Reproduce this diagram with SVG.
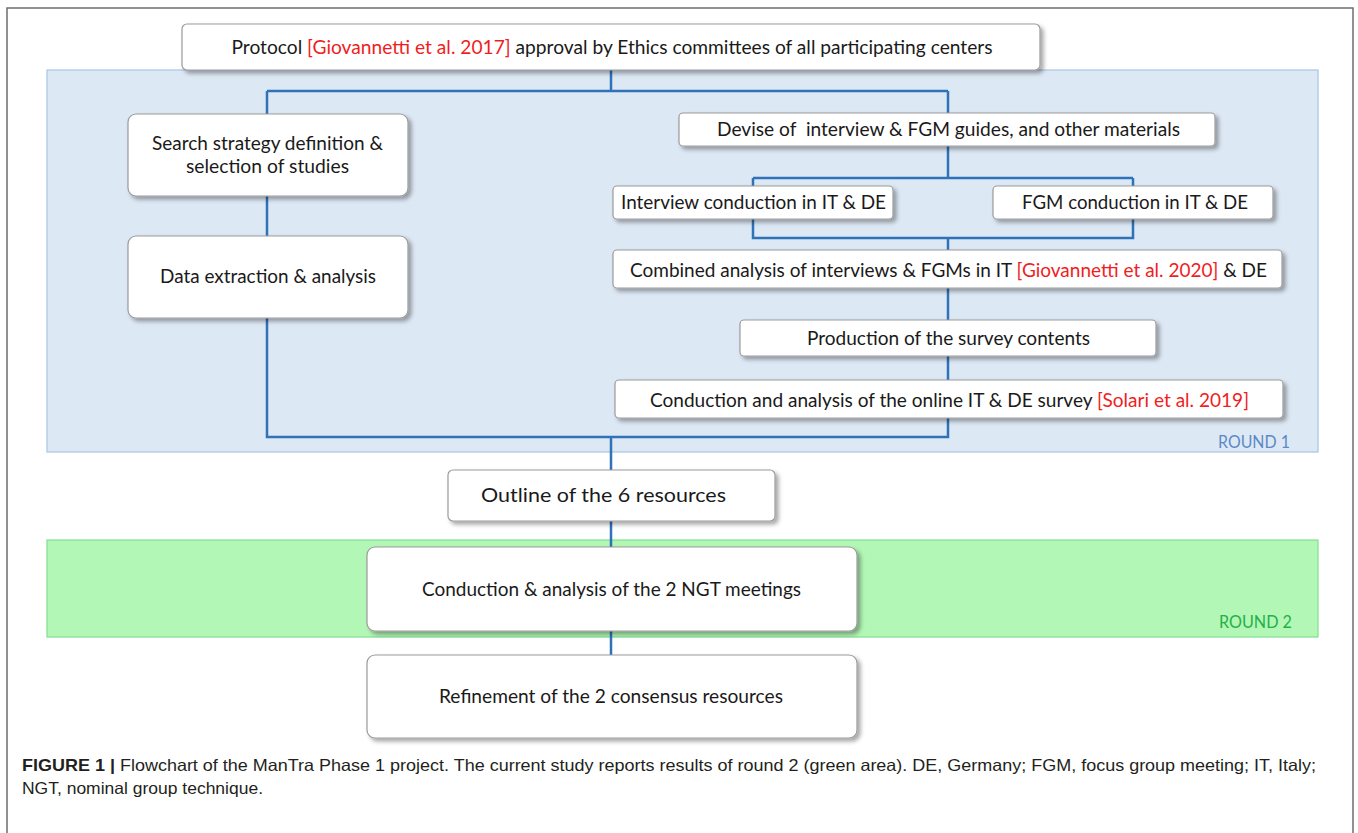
<svg xmlns="http://www.w3.org/2000/svg" width="1358" height="833" viewBox="0 0 1358 833">
<defs>
<filter id="sh" x="-10%" y="-20%" width="130%" height="160%">
<feDropShadow dx="3" dy="3" stdDeviation="2" flood-color="#000" flood-opacity="0.35"/>
</filter>
</defs>
<style>
.box{fill:#fff;stroke:#9b9b9b;stroke-width:1.2;filter:url(#sh)}
.t{font-family:Lato,"Open Sans","Liberation Sans",sans-serif;font-size:18.5px;fill:#1a1a1a;text-anchor:middle;dominant-baseline:central}
.red{fill:#f01e1e}
.con{fill:none;stroke:#2e72b8;stroke-width:2.5}
.cap{font-family:"Liberation Sans",Arial,sans-serif;font-size:16.5px;fill:#231f20}
</style>
<rect x="0" y="0" width="1358" height="833" fill="#fff"/>
<rect x="7" y="8" width="1346" height="840" fill="#fff" stroke="#6e6e6e" stroke-width="1.5"/>
<g id="round1">
<rect x="47" y="70" width="1271" height="382" fill="#dde8f5" stroke="#a9c4e4" stroke-width="1.2"/>
<text x="1290" y="441" font-family="Lato,'Open Sans',sans-serif" font-size="17" fill="#5b8ac6" text-anchor="end" dominant-baseline="central" textLength="72" lengthAdjust="spacingAndGlyphs">ROUND 1</text>
</g>
<g id="round2">
<rect x="47" y="540" width="1271" height="97" fill="#b3f7b6" stroke="#7edf8c" stroke-width="1.2"/>
<text x="1292" y="621" font-family="Lato,'Open Sans',sans-serif" font-size="17" fill="#25b04a" text-anchor="end" dominant-baseline="central" textLength="73" lengthAdjust="spacingAndGlyphs">ROUND 2</text>
</g>
<g id="connectors">
<path class="con" d="M611 70 V91 M267 91 H948 M267 91 V114 M948 91 V113"/>
<path class="con" d="M267 196 V236 M267 318 V437 H948 V418 M611 437 V470"/>
<path class="con" d="M948 146 V178 M753 178 H1133 M753 178 V186 M1133 178 V186"/>
<path class="con" d="M753 219 V238 H1133 V219 M948 238 V250"/>
<path class="con" d="M948 288 V320 M948 356 V380"/>
<path class="con" d="M611 521 V547 M611 631 V655"/>
</g>
<g id="n_protocol">
<rect class="box" x="182" y="24" width="858" height="46" rx="5"/>
<text class="t" x="612" y="47" textLength="761" lengthAdjust="spacingAndGlyphs">Protocol <tspan class="red">[Giovannetti et al. 2017]</tspan> approval by Ethics committees of all participating centers</text>
</g>
<g id="n_search">
<rect class="box" x="128" y="114" width="280" height="82" rx="8"/>
<text class="t" x="267.5" y="143" textLength="231" lengthAdjust="spacingAndGlyphs">Search strategy definition &amp;</text>
<text class="t" x="267.5" y="166" textLength="163" lengthAdjust="spacingAndGlyphs">selection of studies</text>
</g>
<g id="n_data">
<rect class="box" x="128" y="236" width="280" height="82" rx="8"/>
<text class="t" x="268" y="276" textLength="216" lengthAdjust="spacingAndGlyphs">Data extraction &amp; analysis</text>
</g>
<g id="n_devise">
<rect class="box" x="679" y="113" width="536" height="33" rx="4"/>
<text class="t" x="948.5" y="129" textLength="463" lengthAdjust="spacingAndGlyphs" xml:space="preserve">Devise of  interview &amp; FGM guides, and other materials</text>
</g>
<g id="n_interview">
<rect class="box" x="613" y="186" width="280" height="33" rx="4"/>
<text class="t" x="753.5" y="202" textLength="265" lengthAdjust="spacingAndGlyphs">Interview conduction in IT &amp; DE</text>
</g>
<g id="n_fgm">
<rect class="box" x="993" y="186" width="280" height="33" rx="4"/>
<text class="t" x="1135" y="202" textLength="226" lengthAdjust="spacingAndGlyphs">FGM conduction in IT &amp; DE</text>
</g>
<g id="n_combined">
<rect class="box" x="613" y="250" width="669" height="38" rx="4"/>
<text class="t" x="948.5" y="270" textLength="637" lengthAdjust="spacingAndGlyphs">Combined analysis of interviews &amp; FGMs in IT <tspan class="red">[Giovannetti et al. 2020]</tspan> &amp; DE</text>
</g>
<g id="n_production">
<rect class="box" x="740" y="320" width="416" height="36" rx="4"/>
<text class="t" x="948.5" y="338" textLength="283" lengthAdjust="spacingAndGlyphs">Production of the survey contents</text>
</g>
<g id="n_survey">
<rect class="box" x="615" y="380" width="668" height="38" rx="4"/>
<text class="t" x="949.5" y="400" textLength="599" lengthAdjust="spacingAndGlyphs">Conduction and analysis of the online IT &amp; DE survey <tspan class="red">[Solari et al. 2019]</tspan></text>
</g>
<g id="n_outline">
<rect class="box" x="448" y="470" width="327" height="51" rx="5"/>
<text class="t" x="603.5" y="495" textLength="245" lengthAdjust="spacingAndGlyphs">Outline of the 6 resources</text>
</g>
<g id="n_ngt">
<rect class="box" x="367" y="547" width="490" height="84" rx="8"/>
<text class="t" x="611.5" y="589" textLength="379" lengthAdjust="spacingAndGlyphs">Conduction &amp; analysis of the 2 NGT meetings</text>
</g>
<g id="n_refine">
<rect class="box" x="367" y="655" width="490" height="83" rx="8"/>
<text class="t" x="611" y="696" textLength="344" lengthAdjust="spacingAndGlyphs">Refinement of the 2 consensus resources</text>
</g>
<g id="caption">
<text class="cap" x="22" y="771" textLength="1294" lengthAdjust="spacingAndGlyphs"><tspan font-weight="bold">FIGURE 1 |</tspan> Flowchart of the ManTra Phase 1 project. The current study reports results of round 2 (green area). DE, Germany; FGM, focus group meeting; IT, Italy;</text>
<text class="cap" x="22" y="794" textLength="241" lengthAdjust="spacingAndGlyphs">NGT, nominal group technique.</text>
</g>
</svg>
